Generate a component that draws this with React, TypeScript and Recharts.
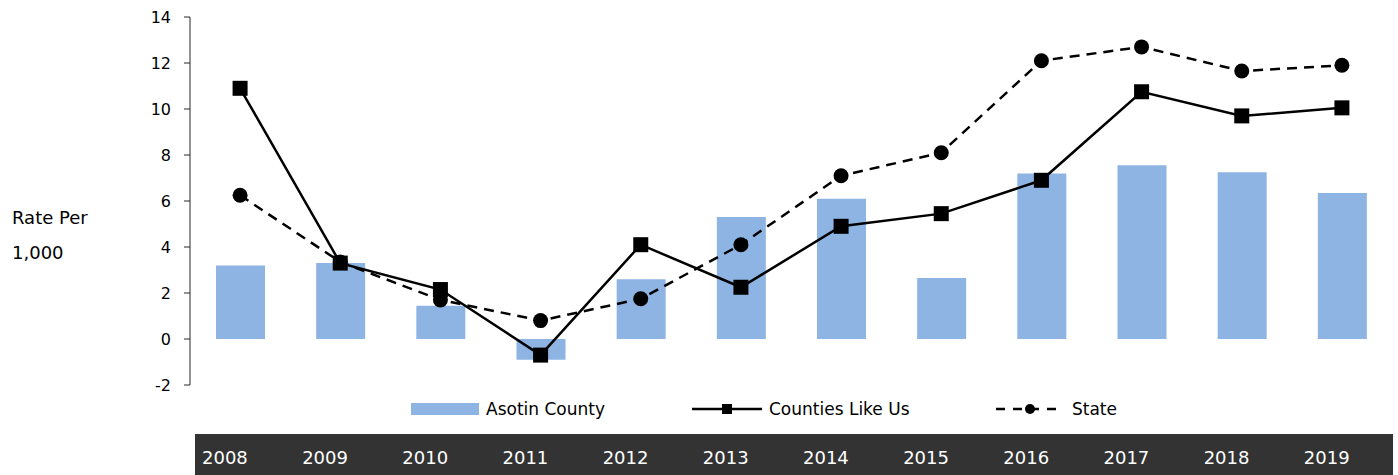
import { ComposedChart, Bar, Line, XAxis, YAxis, Legend, Label } from 'recharts'

const years = ['2008', '2009', '2010', '2011', '2012', '2013', '2014', '2015', '2016', '2017', '2018', '2019']
const asotinCounty = [3.2, 3.3, 1.45, -0.9, 2.6, 5.3, 6.1, 2.65, 7.2, 7.55, 7.25, 6.35]
const countiesLikeUs = [10.9, 3.3, 2.15, -0.7, 4.1, 2.25, 4.9, 5.45, 6.9, 10.75, 9.7, 10.05]
const stateRate = [6.25, 3.35, 1.7, 0.8, 1.75, 4.1, 7.1, 8.1, 12.1, 12.7, 11.65, 11.9]
const yTicks = [-2, 0, 2, 4, 6, 8, 10, 12, 14]

const data = years.map((year, i) => ({
  year,
  asotin: asotinCounty[i],
  counties: countiesLikeUs[i],
  state: stateRate[i],
}))

const FONT = '"DejaVu Sans", sans-serif'
const BAR_COLOR = '#8EB4E3'
const CHART_W = 1398
const CHART_H = 475
const PLOT_LEFT = 190
const PLOT_RIGHT = 6
const BAND = (CHART_W - PLOT_LEFT - PLOT_RIGHT) / years.length

const SquareDot = (props: any) => {
  const { cx, cy } = props
  if (cx == null || cy == null) return null
  return <rect x={cx - 7.5} y={cy - 7.5} width={15} height={15} fill="#000" />
}

const YearTick = (props: any) => {
  const { x, payload, index } = props
  const start = x - BAND / 2
  const shift = index === 0 ? 5 : 0
  return (
    <g>
      <rect x={start + shift} y={434} width={BAND + 1 - shift} height={41} fill="#333333" />
      <text x={start + 12} y={464} fill="#fff" fontSize={18} fontFamily={FONT}>
        {payload.value}
      </text>
    </g>
  )
}

const YTitle = () => (
  <g>
    <text x={12} y={224} fontSize={18} fontFamily={FONT} fill="#000">Rate Per</text>
    <text x={12} y={259} fontSize={18} fontFamily={FONT} fill="#000">1,000</text>
  </g>
)

const LegendContent = () => (
  <div style={{ display: 'flex', alignItems: 'center', fontFamily: FONT, fontSize: 17, color: '#000' }}>
    <div style={{ width: 281, display: 'flex', alignItems: 'center' }}>
      <svg width={68} height={14} style={{ marginRight: 7 }}>
        <rect x={0} y={1} width={68} height={12} fill={BAR_COLOR} />
      </svg>
      <span>Asotin County</span>
    </div>
    <div style={{ width: 304, display: 'flex', alignItems: 'center' }}>
      <svg width={70} height={14} style={{ marginRight: 7 }}>
        <line x1={0} y1={7} x2={70} y2={7} stroke="#000" strokeWidth={2.5} />
        <rect x={30} y={2} width={10} height={10} fill="#000" />
      </svg>
      <span>Counties Like Us</span>
    </div>
    <div style={{ display: 'flex', alignItems: 'center' }}>
      <svg width={67} height={14} style={{ marginRight: 9 }}>
        <line x1={0} y1={7} x2={67} y2={7} stroke="#000" strokeWidth={2.5} strokeDasharray="9 8" />
        <circle cx={34} cy={7} r={5} fill="#000" />
      </svg>
      <span>State</span>
    </div>
  </div>
)

export default function App() {
  return (
    <div style={{ position: 'absolute', left: 0, top: 0, fontFamily: FONT }}>
      <ComposedChart
        width={CHART_W}
        height={CHART_H}
        data={data}
        margin={{ top: 17, right: PLOT_RIGHT, left: 0, bottom: 0 }}
      >
        <XAxis
          dataKey="year"
          axisLine={false}
          tickLine={false}
          height={90}
          interval={0}
          tick={<YearTick />}
        />
        <YAxis
          width={PLOT_LEFT}
          domain={[-2, 14]}
          ticks={yTicks}
          interval={0}
          axisLine={{ stroke: '#262626', strokeWidth: 1 }}
          tickLine={{ stroke: '#262626', strokeWidth: 1 }}
          tickSize={6}
          tickMargin={13}
          tick={{ fill: '#000', fontSize: 16, fontFamily: FONT }}
        >
          <Label content={<YTitle />} />
        </YAxis>
        <Legend
          verticalAlign="middle"
          layout="horizontal"
          wrapperStyle={{ top: 399, left: 411, width: 760 }}
          content={<LegendContent />}
        />
        <Bar dataKey="asotin" name="Asotin County" fill={BAR_COLOR} barSize={49} isAnimationActive={false} />
        <Line
          dataKey="state"
          name="State"
          stroke="#000"
          strokeWidth={2.5}
          strokeDasharray="10 7"
          dot={{ r: 7.5, fill: '#000', stroke: '#000', strokeWidth: 0 }}
          activeDot={false}
          isAnimationActive={false}
        />
        <Line
          dataKey="counties"
          name="Counties Like Us"
          stroke="#000"
          strokeWidth={2.5}
          dot={<SquareDot />}
          activeDot={false}
          isAnimationActive={false}
        />
      </ComposedChart>
    </div>
  )
}
